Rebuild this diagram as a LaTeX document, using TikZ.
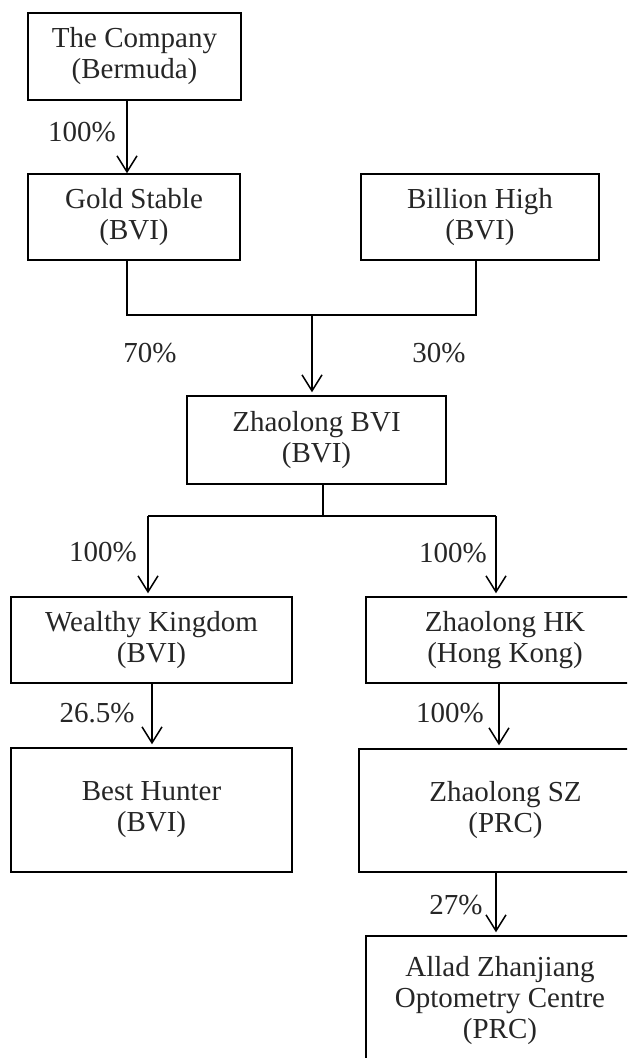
\documentclass[tikz,border=0pt]{standalone}
\usepackage{fontspec}
\setmainfont{Liberation Serif}
\usetikzlibrary{arrows.meta}

\begin{document}
\begin{tikzpicture}[x=1pt, y=-1pt,
        box/.style={rectangle, draw=black, line width=1.5pt, align=center,
                   inner sep=0pt, text=black!85,
                   font=\fontsize{29}{31}\selectfont},
        arrow/.style={->, >={Straight Barb[length=16pt,width=20pt]},
                   line width=1.5pt, shorten >=3pt},
        link/.style={line width=1.5pt},
        pct/.style={inner sep=0pt, text=black!85,
                   font=\fontsize{29}{31}\selectfont}
    ]
        \clip (0,0) rectangle (627,1058);

        \node[box, minimum width=213pt, minimum height=87pt] (comp) at (134.5,56.5) {The Company\\(Bermuda)};
        \node[box, minimum width=212pt, minimum height=86pt] (gold) at (134,217) {Gold Stable\\(BVI)};
        \node[box, minimum width=238pt, minimum height=86pt] (bill) at (480,217) {Billion High\\(BVI)};
        \node[box, minimum width=259pt, minimum height=88pt] (zbvi) at (316.5,440) {Zhaolong BVI\\(BVI)};
        \node[box, minimum width=281pt, minimum height=86pt] (wealth) at (151.5,640) {Wealthy Kingdom\\(BVI)};
        \node[box, minimum width=278pt, minimum height=86pt] (zhk) at (505,640) {Zhaolong HK\\(Hong Kong)};
        \node[box, minimum width=281pt, minimum height=124pt] (bhunt) at (151.5,810) {Best Hunter\\(BVI)};
        \node[box, minimum width=293pt, minimum height=123pt] (zsz) at (505.5,810.5) {Zhaolong SZ\\(PRC)};
        \node[box, minimum width=268pt, minimum height=130pt] (allad) at (500,1001) {Allad Zhanjiang\\Optometry Centre\\(PRC)};

        \coordinate (merge) at (312,315);
        \coordinate (split) at (323,516);
        \coordinate (lft) at (148,516);
        \coordinate (rgt) at (496,516);

        % ownership lines
        \draw[arrow, shorten >=0pt] ([xshift=-7.5pt]comp.south) -- ([xshift=-7.5pt]comp.south |- gold.north);
        \draw[link] ([xshift=-7pt]gold.south) |- (merge) -| ([xshift=-4pt]bill.south);
        \draw[arrow] (merge) -- (merge |- zbvi.north);
        \draw[link] (zbvi.south -| split) -- (split);
        \draw[link] (lft) -- (rgt);
        \draw[arrow] (lft) -- (lft |- wealth.north);
        \draw[arrow] (rgt) -- (rgt |- zhk.north);
        \draw[arrow] ([xshift=0.5pt]wealth.south) -- ([xshift=0.5pt]wealth.south |- bhunt.north);
        \draw[arrow] ([xshift=-6pt]zhk.south) -- ([xshift=-6pt]zhk.south |- zsz.north);
        \draw[arrow] ([xshift=-9.5pt]zsz.south) -- ([xshift=-9.5pt]zsz.south |- allad.north);

        \node[pct] (p1) at (82,132) {100\%};
        \node[pct] (p2) at (150,353) {70\%};
        \node[pct] (p3) at (439,353) {30\%};
        \node[pct] (p4) at (103,552) {100\%};
        \node[pct] (p5) at (453,553) {100\%};
        \node[pct] (p6) at (97,713) {26.5\%};
        \node[pct] (p7) at (450,713) {100\%};
        \node[pct] (p8) at (456,905) {27\%};
    \end{tikzpicture}
\end{document}
